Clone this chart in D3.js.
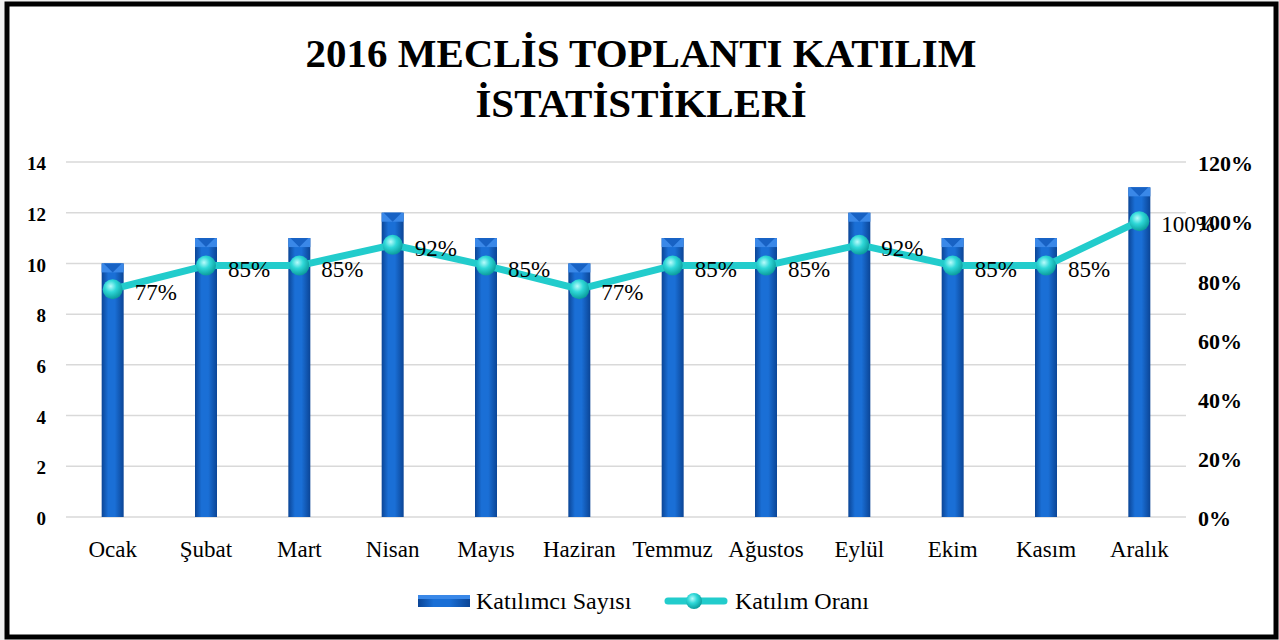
<!DOCTYPE html>
<html>
<head>
<meta charset="utf-8">
<script src="https://cdn.jsdelivr.net/npm/d3@7"></script>
<style>
  html, body { margin: 0; padding: 0; background: #f0f0f0; }
  svg { display: block; }
</style>
</head>
<body>
<div id="chart"></div>
<script>
var months = ["Ocak", "Şubat", "Mart", "Nisan", "Mayıs", "Haziran", "Temmuz", "Ağustos", "Eylül", "Ekim", "Kasım", "Aralık"];
var katilimci = [10, 11, 11, 12, 11, 10, 11, 11, 12, 11, 11, 13];
var oran = [0.77, 0.85, 0.85, 0.92, 0.85, 0.77, 0.85, 0.85, 0.92, 0.85, 0.85, 1.00];
var leftTicks = [0, 2, 4, 6, 8, 10, 12, 14];
var rightTicks = [0, 0.2, 0.4, 0.6, 0.8, 1.0, 1.2];
var titleLines = ["2016 MECLİS TOPLANTI KATILIM", "İSTATİSTİKLERİ"];
var seriesNames = ["Katılımcı Sayısı", "Katılım Oranı"];

var w = 1279, h = 640;
var serif = "'Liberation Serif', 'DejaVu Serif', serif";

var svg = d3.select("#chart").append("svg")
  .attr("width", w)
  .attr("height", h);

var defs = svg.append("defs");

var barGrad = defs.append("linearGradient").attr("id", "barGrad")
  .attr("x1", "0%").attr("x2", "100%").attr("y1", "0%").attr("y2", "0%");
barGrad.append("stop").attr("offset", "0%").attr("stop-color", "#0b4596");
barGrad.append("stop").attr("offset", "30%").attr("stop-color", "#1a6fd6");
barGrad.append("stop").attr("offset", "60%").attr("stop-color", "#1a6fd6");
barGrad.append("stop").attr("offset", "100%").attr("stop-color", "#0b4596");

var dotGrad = defs.append("radialGradient").attr("id", "dotGrad")
  .attr("cx", "40%").attr("cy", "35%").attr("r", "65%");
dotGrad.append("stop").attr("offset", "0%").attr("stop-color", "#b8fbfb");
dotGrad.append("stop").attr("offset", "45%").attr("stop-color", "#2fd8d8");
dotGrad.append("stop").attr("offset", "100%").attr("stop-color", "#0b9d9d");

// frame
svg.append("rect")
  .attr("x", 7).attr("y", 4)
  .attr("width", w - 10).attr("height", h - 7)
  .style("fill", "#fff")
  .style("stroke", "#000")
  .style("stroke-width", 5);

// title
svg.selectAll("text.title")
  .data(titleLines)
  .enter()
  .append("text")
  .attr("class", "title")
  .attr("x", 641)
  .attr("y", function(d, i) { return 67 + i * 50; })
  .attr("text-anchor", "middle")
  .style("font-family", serif)
  .style("font-weight", "bold")
  .style("font-size", "41px")
  .text(function(d) { return d; });

var x = d3.scaleBand().domain(months).range([66, 1186]);
var yL = d3.scaleLinear().domain([0, 14]).range([517, 162]);
var yR = d3.scaleLinear().domain([0, 1.2]).range([517, 162]);

// grid
svg.selectAll("line.grid")
  .data(leftTicks)
  .enter()
  .append("line")
  .attr("x1", 66).attr("x2", 1186)
  .attr("y1", function(d) { return yL(d); })
  .attr("y2", function(d) { return yL(d); })
  .style("stroke", "#d9d9d9")
  .style("stroke-width", 1.5);

// left axis
var leftAxis = svg.append("g")
  .attr("transform", "translate(46,0)")
  .call(d3.axisLeft(yL).tickValues(leftTicks).tickSize(0).tickPadding(0));
leftAxis.select(".domain").remove();
leftAxis.selectAll("text")
  .style("font-family", serif)
  .style("font-weight", "bold")
  .style("font-size", "19px")
  .attr("dy", "0.4em");

// right axis
var rightAxis = svg.append("g")
  .attr("transform", "translate(1198,0)")
  .call(d3.axisRight(yR).tickValues(rightTicks).tickSize(0).tickPadding(0)
    .tickFormat(d3.format(".0%")));
rightAxis.select(".domain").remove();
rightAxis.selectAll("text")
  .style("font-family", serif)
  .style("font-weight", "bold")
  .style("font-size", "22px")
  .attr("dy", "0.4em");

// category axis
var catAxis = svg.append("g")
  .attr("transform", "translate(0,517)")
  .call(d3.axisBottom(x).tickSize(0).tickPadding(0));
catAxis.select(".domain").remove();
catAxis.selectAll("text")
  .style("font-family", serif)
  .style("font-size", "23px")
  .attr("y", 40)
  .attr("dy", "0");

// bars
var barW = 22;
var bars = svg.selectAll("g.bar")
  .data(katilimci)
  .enter()
  .append("g")
  .attr("class", "bar");

bars.append("rect")
  .attr("x", function(d, i) { return x(months[i]) + x.bandwidth() / 2 - barW / 2; })
  .attr("y", function(d) { return yL(d); })
  .attr("width", barW)
  .attr("height", function(d) { return yL(0) - yL(d); })
  .style("fill", "url(#barGrad)");

bars.append("rect")
  .attr("x", function(d, i) { return x(months[i]) + x.bandwidth() / 2 - barW / 2; })
  .attr("y", function(d) { return yL(d); })
  .attr("width", barW)
  .attr("height", 9)
  .style("fill", "#3a88e8");

bars.append("path")
  .attr("d", function(d, i) {
    var cx = x(months[i]) + x.bandwidth() / 2;
    var t = yL(d);
    return "M" + (cx - barW / 2 + 2) + "," + t + "L" + (cx + barW / 2 - 2) + "," + t + "L" + cx + "," + (t + 9) + "Z";
  })
  .style("fill", "#1862c4");

// line
var line = d3.line()
  .x(function(d, i) { return x(months[i]) + x.bandwidth() / 2; })
  .y(function(d) { return yR(d); });

svg.append("path")
  .datum(oran)
  .attr("d", line)
  .style("fill", "none")
  .style("stroke", "#22cccc")
  .style("stroke-width", 7)
  .style("stroke-linejoin", "round");

svg.selectAll("circle.dot")
  .data(oran)
  .enter()
  .append("circle")
  .attr("class", "dot")
  .attr("cx", function(d, i) { return x(months[i]) + x.bandwidth() / 2; })
  .attr("cy", function(d) { return yR(d); })
  .attr("r", 10)
  .style("fill", "url(#dotGrad)");

svg.selectAll("text.lbl")
  .data(oran)
  .enter()
  .append("text")
  .attr("class", "lbl")
  .attr("x", function(d, i) { return x(months[i]) + x.bandwidth() / 2 + 22; })
  .attr("y", function(d) { return yR(d) + 3; })
  .attr("dy", "0.35em")
  .style("font-family", serif)
  .style("font-size", "23px")
  .text(function(d) { return Math.round(d * 100) + "%"; });

// legend
var leg = svg.append("g");
leg.append("rect")
  .attr("x", 418).attr("y", 595).attr("width", 52).attr("height", 12)
  .style("fill", "url(#barGrad)");
leg.append("rect")
  .attr("x", 418).attr("y", 595).attr("width", 52).attr("height", 4)
  .style("fill", "#3a88e8");
leg.append("text")
  .attr("x", 476).attr("y", 601).attr("dy", "0.35em")
  .style("font-family", serif).style("font-size", "24px")
  .text(seriesNames[0]);
leg.append("line")
  .attr("x1", 668).attr("x2", 724).attr("y1", 601).attr("y2", 601)
  .style("stroke", "#22cccc").style("stroke-width", 7)
  .style("stroke-linecap", "round");
leg.append("circle")
  .attr("cx", 694).attr("cy", 601).attr("r", 8)
  .style("fill", "url(#dotGrad)");
leg.append("text")
  .attr("x", 735).attr("y", 601).attr("dy", "0.35em")
  .style("font-family", serif).style("font-size", "24px")
  .text(seriesNames[1]);
</script>
</body>
</html>
